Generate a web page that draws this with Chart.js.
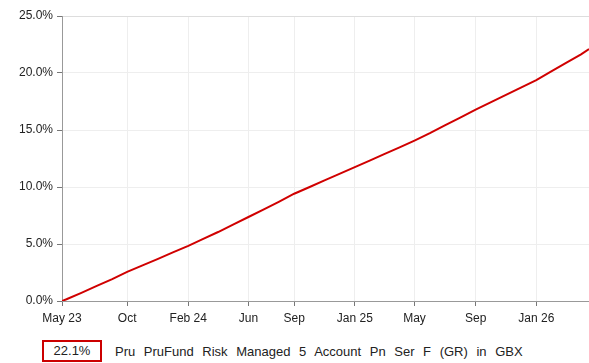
<!DOCTYPE html>
<html>
<head>
<meta charset="utf-8">
<script src="https://cdn.jsdelivr.net/npm/chart.js@4"></script>
<style>
  body { margin: 0; background: #fff; font-family: "Liberation Sans", Arial, sans-serif; }
  #wrap { position: relative; width: 589px; height: 363px; }
  #chart-box { position: absolute; left: 0; top: 0; width: 589px; height: 336px; }
  #legend { position: absolute; left: 42px; top: 340px; height: 22px; display: flex; align-items: center; font-size: 13px; color: #222; }
  #legend .val { box-sizing: border-box; width: 60px; height: 22px; border: 2px solid #cc0000; text-align: center; line-height: 18px; }
  #legend .name { margin-left: 13px; word-spacing: 5px; }
</style>
</head>
<body>
<div id="wrap">
  <div id="chart-box"><canvas id="myChart"></canvas></div>
  <div id="legend"><span class="val">22.1%</span><span class="name">Pru PruFund Risk Managed 5 Account Pn Ser F (GR) in GBX</span></div>
</div>
<script>
// Cumulative growth, month by month
const dates = [
  "2023-05-23", "2023-06-01", "2023-07-01", "2023-08-01", "2023-09-01", "2023-10-01",
  "2023-11-01", "2023-12-01", "2024-01-01", "2024-02-01", "2024-03-01", "2024-04-01",
  "2024-05-01", "2024-06-01", "2024-07-01", "2024-08-01", "2024-09-01", "2024-10-01",
  "2024-11-01", "2024-12-01", "2025-01-01", "2025-02-01", "2025-03-01", "2025-04-01",
  "2025-05-01", "2025-06-01", "2025-07-01", "2025-08-01", "2025-09-01", "2025-10-01",
  "2025-11-01", "2025-12-01", "2026-01-01", "2026-02-01", "2026-03-01", "2026-04-01",
  "2026-04-17"
];
const growth = [
  0, 0.15, 0.72, 1.33, 1.92, 2.56,
  3.12, 3.68, 4.26, 4.83, 5.42, 6.05,
  6.70, 7.37, 8.02, 8.70, 9.41, 9.98,
  10.58, 11.15, 11.74, 12.33, 12.88, 13.47,
  14.07, 14.72, 15.40, 16.08, 16.78, 17.42,
  18.08, 18.72, 19.38, 20.16, 20.86, 21.64,
  22.1
];
const tickDates = ["2023-05-23", "2023-10-01", "2024-02-01", "2024-06-01", "2024-09-01",
  "2025-01-01", "2025-05-01", "2025-09-01", "2026-01-01"];
const tickLabels = ["May 23", "Oct", "Feb 24", "Jun", "Sep", "Jan 25", "May", "Sep", "Jan 26"];
const yTicks = [0, 5, 10, 15, 20, 25];

const ms = (d) => Date.parse(d + "T00:00:00Z");
const points = dates.map((d, i) => ({ x: ms(d), y: growth[i] }));

const tickFont = { family: "Liberation Sans, Arial, sans-serif", size: 12 };

new Chart(document.getElementById("myChart"), {
  type: "line",
  data: {
    datasets: [{
      label: "Pru PruFund Risk Managed 5 Account Pn Ser F (GR) in GBX",
      data: points,
      borderColor: "#d00000",
      borderWidth: 2,
      pointRadius: 0,
      tension: 0,
    }],
  },
  options: {
    responsive: true,
    maintainAspectRatio: false,
    animation: false,
    layout: { padding: { top: 16, left: 0, right: 0, bottom: 0 } },
    plugins: { legend: { display: false }, tooltip: { enabled: false } },
    scales: {
      x: {
        type: "linear",
        min: ms("2023-05-23"),
        max: ms("2026-04-17"),
        afterBuildTicks: (scale) => {
          scale.ticks = tickDates.map((d) => ({ value: ms(d) }));
        },
        afterFit: (scale) => { scale.height = 35; },
        ticks: {
          autoSkip: false,
          maxRotation: 0,
          padding: 5,
          color: "#222",
          font: tickFont,
          callback: (v, i) => tickLabels[i],
        },
        grid: { color: "#eeeeee", tickColor: "#777", tickLength: 5 },
        border: { color: "#999" },
      },
      y: {
        min: 0,
        max: 25,
        afterBuildTicks: (scale) => {
          scale.ticks = yTicks.map((v) => ({ value: v }));
        },
        afterFit: (scale) => { scale.width = 62; },
        ticks: {
          padding: 4,
          color: "#222",
          font: tickFont,
          callback: (v) => v.toFixed(1) + "%",
        },
        grid: {
          color: (c) => (c.tick && c.tick.value === 25 ? "#dddddd" : "#eeeeee"),
          tickColor: "#777",
          tickLength: 5,
        },
        border: { color: "#999" },
      },
    },
  },
});
</script>
</body>
</html>
